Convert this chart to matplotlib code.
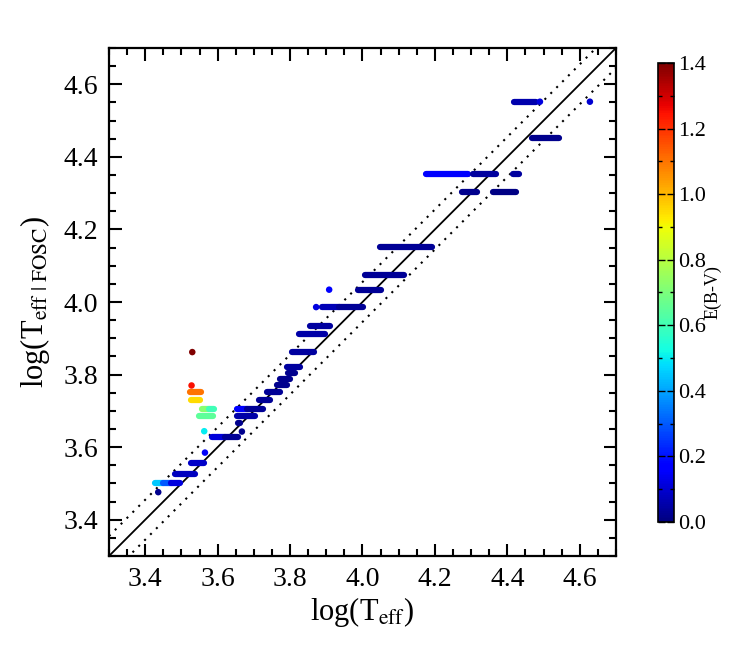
import numpy as np
import matplotlib
matplotlib.use('Agg')
import matplotlib.pyplot as plt
from matplotlib.ticker import MultipleLocator

plt.rcParams['font.family'] = ['Liberation Serif', 'DejaVu Serif']
plt.rcParams['mathtext.fontset'] = 'stix'

# horizontal streaks: log(Teff|FOSC), log(Teff) start, log(Teff) end, E(B-V)
seg_y = [3.500, 3.500, 3.500, 3.526, 3.556, 3.627, 3.627, 3.666, 3.685, 3.705,
         3.705, 3.730, 3.753, 3.770, 3.787, 3.804, 3.821, 3.863, 3.911, 3.933,
         3.986, 3.986, 4.034, 4.074, 4.152, 4.303, 4.303, 4.353, 4.353, 4.353,
         4.453, 4.552,
         3.752, 3.730, 3.705, 3.705, 3.685]
seg_x0 = [3.428, 3.450, 3.470, 3.481, 3.526, 3.585, 3.620, 3.655, 3.653, 3.653,
          3.680, 3.715, 3.737, 3.763, 3.772, 3.795, 3.791, 3.805, 3.826, 3.855,
          3.887, 3.935, 3.988, 4.008, 4.047, 4.275, 4.360, 4.175, 4.305, 4.417,
          4.467, 4.419,
          3.524, 3.526, 3.556, 3.575, 3.549]
seg_x1 = [3.450, 3.470, 3.496, 3.537, 3.562, 3.620, 3.657, 3.662, 3.703, 3.680,
          3.724, 3.746, 3.772, 3.792, 3.800, 3.814, 3.827, 3.866, 3.897, 3.910,
          3.935, 4.001, 4.051, 4.115, 4.193, 4.316, 4.424, 4.290, 4.368, 4.433,
          4.543, 4.479,
          3.553, 3.551, 3.575, 3.590, 3.586]
seg_ebv = [0.45, 0.30, 0.12, 0.08, 0.09, 0.11, 0.03, 0.02, 0.05, 0.16,
           0.03, 0.03, 0.03, 0.02, 0.02, 0.02, 0.04, 0.04, 0.05, 0.04,
           0.07, 0.03, 0.03, 0.03, 0.03, 0.02, 0.01, 0.16, 0.04, 0.04,
           0.02, 0.06,
           1.10, 0.95, 0.72, 0.60, 0.65]

# isolated points
dot_x = [3.530, 3.528, 3.563, 3.565, 3.436, 3.908, 3.872, 4.490, 4.628, 3.667]
dot_y = [3.862, 3.770, 3.644, 3.585, 3.476, 4.034, 3.986, 4.552, 4.552, 3.643]
dot_ebv = [1.40, 1.25, 0.50, 0.15, 0.02, 0.16, 0.12, 0.12, 0.10, 0.02]

offset = 0.055

fig = plt.figure(figsize=(7.48, 6.53), dpi=100)
ax = fig.add_axes([0.1457, 0.1485, 0.6778, 0.778])
cax = fig.add_axes([0.8797, 0.2006, 0.0214, 0.703])

cmap = plt.get_cmap('jet')
norm = plt.Normalize(0, 1.4)

lims = np.array([3.3, 4.7])
ax.plot(lims, lims, color='black', lw=1.3, zorder=1)
ax.plot(lims, lims + offset, color='black', lw=1.5, ls=(0, (1, 3)), zorder=1)
ax.plot(lims, lims - offset, color='black', lw=1.5, ls=(0, (1, 3)), zorder=1)

ax.hlines(seg_y, seg_x0, seg_x1, colors=cmap(norm(np.array(seg_ebv))),
          linewidth=4.5, capstyle='round', zorder=2)
sc = ax.scatter(dot_x, dot_y, c=dot_ebv, cmap=cmap, norm=norm, s=22,
                edgecolors='none', zorder=3)

ax.set_xlim(3.3, 4.7)
ax.set_ylim(3.3, 4.7)
ax.xaxis.set_major_locator(MultipleLocator(0.2))
ax.xaxis.set_minor_locator(MultipleLocator(0.05))
ax.yaxis.set_major_locator(MultipleLocator(0.2))
ax.yaxis.set_minor_locator(MultipleLocator(0.05))
ax.tick_params(which='both', direction='in', top=True, right=True, width=1.5)
ax.tick_params(which='major', length=9, labelsize=20, pad=8)
ax.tick_params(which='minor', length=5)
for s in ax.spines.values():
    s.set_linewidth(1.6)

ax.set_xlabel(r'log(T$_{\rm eff}$)', fontsize=22, labelpad=2)
ax.set_ylabel(r'log(T$_{\rm eff\ |\ FOSC}$)', fontsize=22, labelpad=8)

cb = fig.colorbar(sc, cax=cax)
cb.set_ticks(np.arange(0, 1.41, 0.2))
cb.ax.yaxis.set_minor_locator(MultipleLocator(0.1))
cb.ax.tick_params(which='both', direction='in', left=True, right=True, width=1)
cb.ax.tick_params(which='major', length=5, labelsize=16, pad=3)
cb.ax.tick_params(which='minor', length=3)
cb.outline.set_linewidth(1.2)
cb.set_label('E(B-V)', fontsize=13, labelpad=-1)

fig.savefig('out.png', dpi=100)
